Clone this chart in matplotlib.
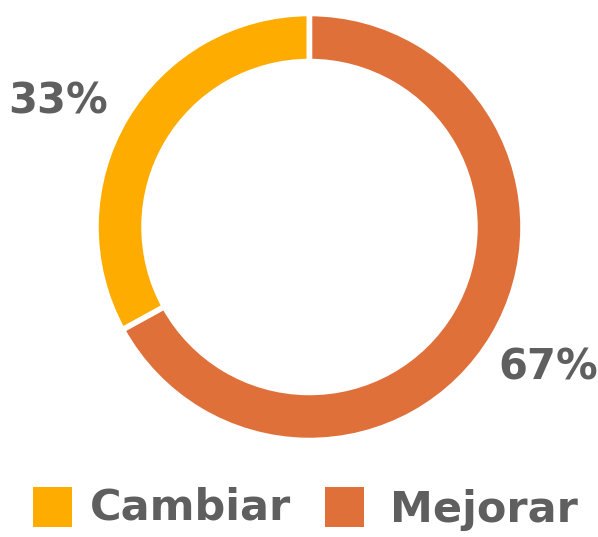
import matplotlib
matplotlib.use("Agg")
import matplotlib.pyplot as plt
from matplotlib.patches import Rectangle

categories = ["Cambiar", "Mejorar"]
values = [33, 67]
labels = ["33%", "67%"]
colors = ["#FFAC00", "#E0703A"]
text_color = "#5F5F5F"

W, H = 598, 537
fig = plt.figure(figsize=(W / 100, H / 100), dpi=100)
fig.patch.set_facecolor("white")

cx, cy, r = 309.5, 227, 213.5
ax = fig.add_axes([(cx - r) / W, (H - cy - r) / H, 2 * r / W, 2 * r / H])

ax.pie(values, colors=colors, startangle=90, counterclock=True, radius=1,
       wedgeprops=dict(width=0.225, edgecolor="white", linewidth=4))
ax.set_xlim(-1, 1)
ax.set_ylim(-1, 1)
ax.set_aspect("equal")
ax.axis("off")

# percentage labels
label_pos = [(58, 101), (548, 368)]
for (x, y), t in zip(label_pos, labels):
    fig.text(x / W, 1 - y / H, t, ha="center", va="center", fontsize=30,
             fontweight="bold", color=text_color, family="DejaVu Sans")

# legend
sq = [(33, 487), (325, 487)]
tx = [(90, 508), (390, 510)]
for (sx, sy), (x, y), c, name in zip(sq, tx, colors, categories):
    fig.patches.append(Rectangle((sx / W, 1 - (sy + 40) / H), 39 / W, 40 / H,
                                 transform=fig.transFigure, facecolor=c,
                                 edgecolor="none"))
    fig.text(x / W, 1 - y / H, name, ha="left", va="center", fontsize=31,
             fontweight="semibold", color=text_color, family="DejaVu Sans")

fig.savefig("out.png", dpi=100, facecolor="white")
